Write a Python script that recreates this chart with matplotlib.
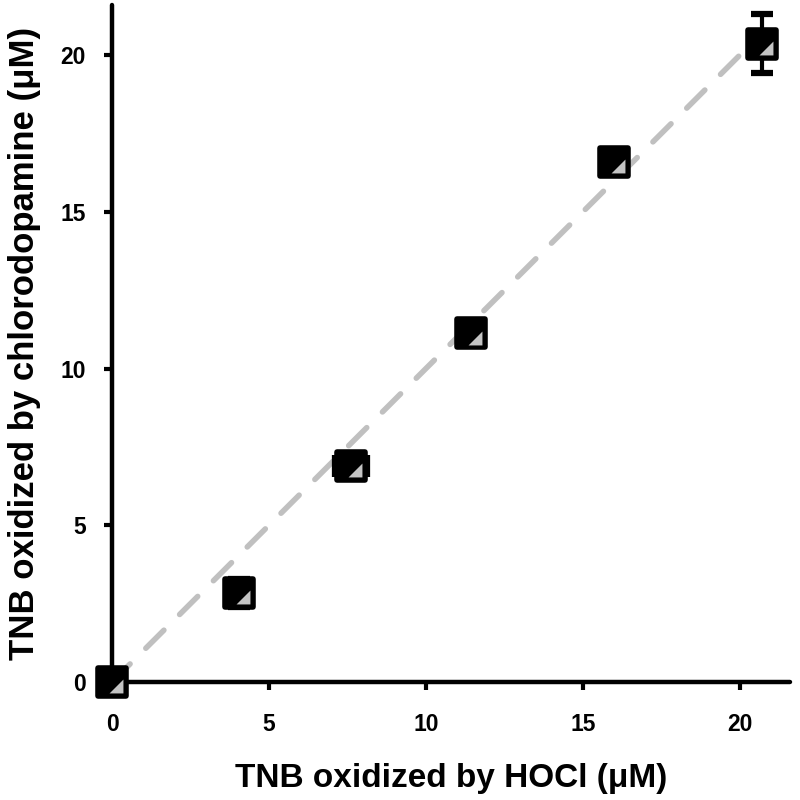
import matplotlib
matplotlib.use("Agg")
import matplotlib.pyplot as plt
from matplotlib.markers import MarkerStyle

plt.rcParams['font.family'] = ['Liberation Sans', 'DejaVu Sans']
plt.rcParams['font.weight'] = 'bold'

# data
hocl = [0.0, 4.05, 7.62, 11.45, 16.0, 20.72]
chloro = [0.0, 2.83, 6.88, 11.12, 16.6, 20.37]
x_err = [0.0, 0.0, 0.5, 0.0, 0.0, 0.0]
y_err = [0.35, 0.45, 0.0, 0.18, 0.0, 0.95]
ticks = [0, 5, 10, 15, 20]
ref_line = [0, 20.0]

fig = plt.figure(figsize=(8, 8), dpi=100)
ax = fig.add_axes([0.14, 0.1475, 0.8475, 0.84625])

# dashed identity line
ax.plot(ref_line, ref_line, color='#c0c0c0', lw=4, dashes=(4.6, 4.0),
        dash_capstyle='round', zorder=1, clip_on=False)

# error bars under markers
ax.errorbar(hocl, chloro, xerr=x_err, yerr=y_err, fmt='none', ecolor='black',
            elinewidth=3, capsize=8, capthick=4.5, zorder=2, clip_on=False)

sq = MarkerStyle('s', joinstyle='round')
ax.plot(hocl, chloro, linestyle='none', marker=sq, markersize=20,
        markerfacecolor='black', markeredgecolor='black', markeredgewidth=4,
        zorder=3, clip_on=False)

# small grey triangle inside each marker (lower-right)
tri = [(-1, -1), (1, -1), (1, 1), (-1, -1)]
tri_off = 0.13
ax.plot([v + tri_off for v in hocl], [v - tri_off for v in chloro],
        linestyle='none', marker=tri, markersize=10, markerfacecolor='#c4c4c4',
        markeredgewidth=0, zorder=4, clip_on=False)

ax.set_xlim(0, 21.6)
ax.set_ylim(0, 21.6)
ax.set_xticks(ticks)
ax.set_yticks(ticks)
ax.tick_params(direction='out', length=6, width=3, labelsize=16.5)
ax.tick_params(axis='x', pad=16)
ax.tick_params(axis='y', pad=13)
for t in ax.get_xticklabels() + ax.get_yticklabels():
    t.set_fontweight('bold')

for side in ['top', 'right']:
    ax.spines[side].set_visible(False)
for side in ['left', 'bottom']:
    ax.spines[side].set_linewidth(3.2)
    ax.spines[side].set_capstyle('round')

ax.set_xlabel('TNB oxidized by HOCl (\u03bcM)', fontsize=24, fontweight='bold', labelpad=20)
ax.set_ylabel('TNB oxidized by chlorodopamine (\u03bcM)', fontsize=25, fontweight='bold', labelpad=14)

fig.savefig('out.png', dpi=100)
